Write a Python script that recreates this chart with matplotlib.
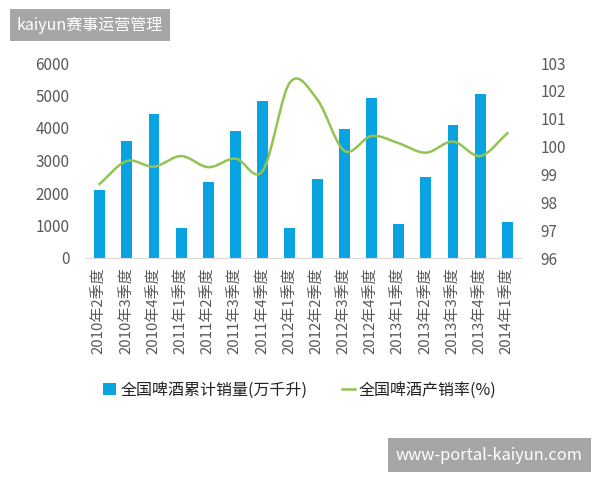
import numpy as np
import matplotlib.pyplot as plt

plt.rcParams['font.family'] = ['Noto Sans CJK SC', 'DejaVu Sans']

# Data
quarters = ['2010年2季度', '2010年3季度', '2010年4季度', '2011年1季度',
            '2011年2季度', '2011年3季度', '2011年4季度', '2012年1季度',
            '2012年2季度', '2012年3季度', '2012年4季度', '2013年1季度',
            '2013年2季度', '2013年3季度', '2013年4季度', '2014年1季度']
sales = [2090, 3610, 4430, 930, 2350, 3900, 4830, 930,
         2420, 3980, 4910, 1045, 2500, 4090, 5035, 1120]
rate = [98.66, 99.48, 99.28, 99.66, 99.26, 99.57, 99.13, 102.3,
        101.7, 99.85, 100.38, 100.12, 99.78, 100.18, 99.66, 100.48]

bar_color = '#0AA3E2'
line_color = '#92C353'
text_color = '#595959'


def smooth(x, y, steps=20):
    # Catmull-Rom curve through the points, like Excel's smoothed line
    x = np.asarray(x, float)
    y = np.asarray(y, float)
    px = np.concatenate([[2 * x[0] - x[1]], x, [2 * x[-1] - x[-2]]])
    py = np.concatenate([[2 * y[0] - y[1]], y, [2 * y[-1] - y[-2]]])
    xs, ys = [], []
    t = np.linspace(0, 1, steps, endpoint=False)
    for i in range(1, len(px) - 2):
        for p, out in ((px, xs), (py, ys)):
            p0, p1, p2, p3 = p[i - 1], p[i], p[i + 1], p[i + 2]
            out.extend(0.5 * (2 * p1 + (-p0 + p2) * t
                              + (2 * p0 - 5 * p1 + 4 * p2 - p3) * t ** 2
                              + (-p0 + 3 * p1 - 3 * p2 + p3) * t ** 3))
    xs.append(x[-1])
    ys.append(y[-1])
    return np.array(xs), np.array(ys)


fig = plt.figure(figsize=(6, 4.8), dpi=100)
ax = fig.add_axes([86 / 600, 1 - 258 / 480, (521 - 86) / 600, 195 / 480])
x = np.arange(len(quarters))

ax.bar(x, sales, width=0.4, color=bar_color, label='全国啤酒累计销量(万千升)', zorder=2)
ax.set_ylim(0, 6000)
ax.set_yticks(range(0, 6001, 1000))
ax.set_xlim(-0.5, len(quarters) - 0.5)
ax.set_xticks(x)
ax.set_xticklabels(quarters, rotation=90, fontsize=10.8, color=text_color)
ax.tick_params(axis='y', length=0, labelsize=11, labelcolor=text_color, pad=12)
ax.tick_params(axis='x', length=0, pad=7)
for s in ['top', 'left', 'right']:
    ax.spines[s].set_visible(False)
ax.spines['bottom'].set_color('#D9D9D9')

ax2 = ax.twinx()
sx, sy = smooth(x, rate)
ax2.plot(sx, sy, color=line_color, lw=1.8, label='全国啤酒产销率(%)', zorder=3)
ax2.set_ylim(96, 103)
ax2.set_yticks(range(96, 104))
ax2.tick_params(axis='y', length=0, labelsize=11, labelcolor=text_color, pad=14)
for s in ['top', 'left', 'right', 'bottom']:
    ax2.spines[s].set_visible(False)

h1, l1 = ax.get_legend_handles_labels()
h2, l2 = ax2.get_legend_handles_labels()
fig.legend(h1 + h2, l1 + l2, loc='center', bbox_to_anchor=(0.5, 1 - 390 / 480),
           ncol=2, frameon=False, fontsize=11.5, handlelength=0.8,
           handleheight=0.8, handletextpad=0.25, columnspacing=2.2,
           labelcolor='#222222')

# watermark boxes
fig.text(17 / 600, 1 - 25 / 480, 'kaiyun赛事运营管理', color='white', fontsize=11.5,
         va='center', ha='left',
         bbox=dict(boxstyle='square,pad=0.45', fc='#A6A6A6', ec='none'))
fig.text(396 / 600, 1 - 455 / 480, 'www-portal-kaiyun.com', color='white',
         fontsize=11.8, va='center', ha='left',
         bbox=dict(boxstyle='square,pad=0.5', fc='#A6A6A6', ec='none'))

fig.savefig('out.png', dpi=100)
